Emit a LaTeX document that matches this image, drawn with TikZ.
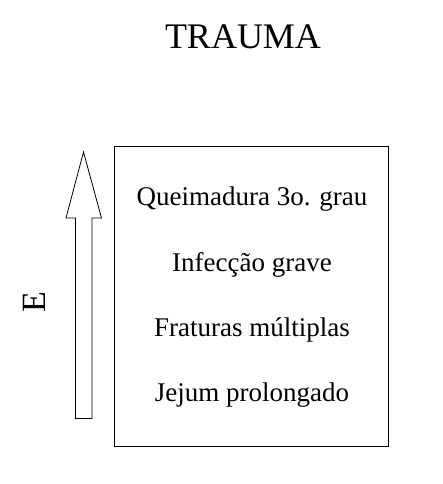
\documentclass[tikz,border=0pt]{standalone}
\usepackage{fontspec}
\setmainfont{Liberation Serif}
\usetikzlibrary{positioning}

\begin{document}
\begin{tikzpicture}[
    x=1pt, y=-1pt,
    frame/.style={draw, line width=0.8pt, inner sep=0pt, outer sep=0pt},
    item/.style={font=\fontsize{27}{32}\selectfont, anchor=base},
    shaft/.style={draw, line width=0.8pt, line join=miter}
]
    \useasboundingbox (0,0) rectangle (442,484);

    % Title
    \node[font=\fontsize{36}{42}\selectfont, anchor=base] (title) at (243,49) {TRAUMA};

    % Box with the list
    \node[frame, minimum width=273.5pt, minimum height=300pt] (box) at (251.25,296) {};
    \node[item] (burn) at (252,205.5) {Queimadura 3o. grau};
    \node[item] (infec) at ([yshift=-66pt]burn.base) {Infecção grave};
    \node[item] (fract) at ([yshift=-65pt]infec.base) {Fraturas múltiplas};
    \node[item] (fast) at ([yshift=-65pt]fract.base) {Jejum prolongado};

    % Upward arrow
    \coordinate (tip) at (83.5,152);
    \draw[shaft] (tip) -- (101.5,218) -- (92,218) -- (92,418.5) -- (75.5,418.5)
        -- (75.5,218) -- (66,218) -- cycle;
    \node[font=\fontsize{34}{40}\selectfont, rotate=90, anchor=base] (e) at (45.5,302) {E};

\end{tikzpicture}
\end{document}
